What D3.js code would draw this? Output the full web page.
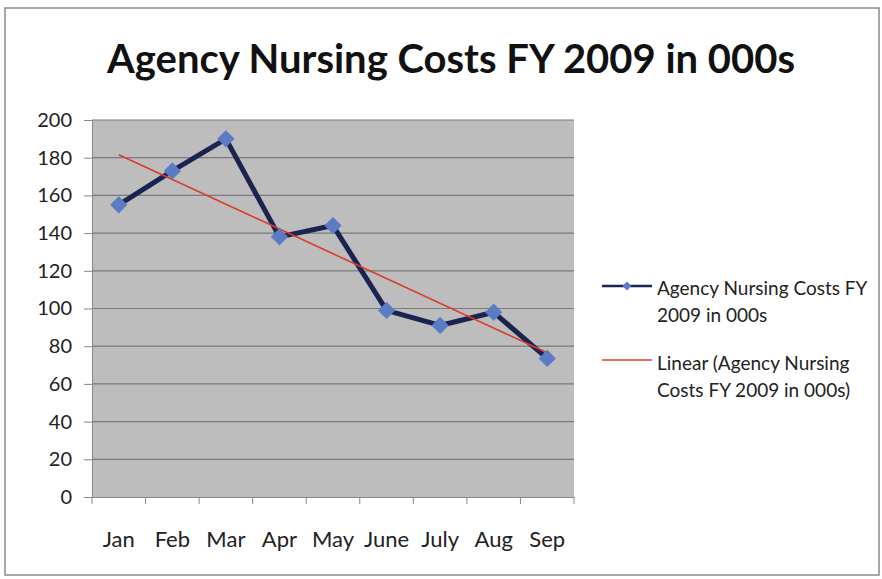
<!DOCTYPE html>
<html><head><meta charset="utf-8">
<script src="https://cdn.jsdelivr.net/npm/d3@7"></script>
<style>body{margin:0;background:#fff;} svg{display:block;font-family:Lato, "Open Sans", sans-serif;}</style>
</head><body>
<svg id="c" width="882" height="579"></svg>
<script>
const title = "Agency Nursing Costs FY 2009 in 000s";
const months = ["Jan","Feb","Mar","Apr","May","June","July","Aug","Sep"];
const costs = [155, 173, 190, 138, 144, 99, 91, 98, 73.5];
const yTicks = [0,20,40,60,80,100,120,140,160,180,200];
const seriesName = ["Agency Nursing Costs FY", "2009 in 000s"];
const trendName = ["Linear (Agency Nursing", "Costs FY 2009 in 000s)"];

const svg = d3.select("#c");
svg.append("rect").attr("x",5).attr("y",8).attr("width",874).attr("height",567)
  .attr("fill","#fff").attr("stroke","#8c8c8c").attr("stroke-width",1.5);

const L=92, R=574, T=120, B=497;
const x = d3.scaleBand().domain(months).range([L,R]);
const y = d3.scaleLinear().domain([0,200]).range([B,T]);
const cx = d => x(d)+x.bandwidth()/2;

svg.append("text").attr("x",451).attr("y",73).attr("text-anchor","middle")
  .attr("font-size",41).attr("font-weight","bold").attr("fill","#111")
  .attr("textLength",688).attr("lengthAdjust","spacingAndGlyphs").text(title);

svg.append("rect").attr("x",L).attr("y",T).attr("width",R-L).attr("height",B-T)
  .attr("fill","#bdbdbd");

// gridlines
svg.append("g").selectAll("line").data(yTicks.filter(v=>v>0)).join("line")
  .attr("x1",L).attr("x2",R).attr("y1",d=>y(d)).attr("y2",d=>y(d))
  .attr("stroke","#7a7a7a").attr("stroke-width",1.2);

// y axis
const ya = svg.append("g").attr("transform",`translate(${L},0)`)
  .call(d3.axisLeft(y).tickValues(yTicks).tickSize(8).tickPadding(12));
ya.select(".domain").attr("stroke","#888");
ya.selectAll(".tick line").attr("stroke","#888");
ya.selectAll("text").attr("font-size",20).attr("fill","#222").attr("font-family","Lato, sans-serif");

// x axis
const xa = svg.append("g").attr("transform",`translate(0,${B})`)
  .call(d3.axisBottom(x).tickSize(0).tickPadding(34));
xa.select(".domain").attr("stroke","#888");
xa.selectAll("text").attr("font-size",22).attr("fill","#222").attr("font-family","Lato, sans-serif");
svg.append("g").selectAll("line").data(months.concat(["end"])).join("line")
  .attr("x1",(d,i)=>L+i*x.bandwidth()).attr("x2",(d,i)=>L+i*x.bandwidth())
  .attr("y1",B).attr("y2",B+7).attr("stroke","#888");

// series line
svg.append("path").datum(months.map((m,i)=>[cx(m),y(costs[i])]))
  .attr("d",d3.line()).attr("fill","none").attr("stroke","#1b2350").attr("stroke-width",5)
  .attr("stroke-linejoin","round");

// linear trend (least squares of the data)
const n = costs.length, mx=(n-1)/2, my=d3.mean(costs);
const slope = d3.sum(costs,(v,i)=>(i-mx)*(v-my))/d3.sum(costs,(v,i)=>(i-mx)*(i-mx));
const ic = my - slope*mx;
svg.append("line").attr("x1",cx(months[0])).attr("y1",y(ic))
  .attr("x2",cx(months[n-1])).attr("y2",y(ic+slope*(n-1)))
  .attr("stroke","#dd3b2a").attr("stroke-width",1.6);

// markers
svg.append("g").selectAll("path").data(costs).join("path")
  .attr("d", d3.symbol().type(d3.symbolSquare).size(150))
  .attr("transform",(d,i)=>`translate(${cx(months[i])},${y(d)}) rotate(45)`)
  .attr("fill","#5b7cc4");

// legend
const lg = svg.append("g");
lg.append("line").attr("x1",602).attr("x2",652).attr("y1",286).attr("y2",286)
  .attr("stroke","#1b2350").attr("stroke-width",2.5);
lg.append("path").attr("d",d3.symbol().type(d3.symbolSquare).size(40))
  .attr("transform","translate(627,286) rotate(45)").attr("fill","#5b7cc4");
lg.append("line").attr("x1",602).attr("x2",652).attr("y1",360).attr("y2",360)
  .attr("stroke","#dd3b2a").attr("stroke-width",1.5);
const tx = (lines,y0)=>lines.forEach((s,i)=>lg.append("text").attr("x",657).attr("y",y0+i*27)
  .attr("font-size",19).attr("fill","#222").text(s));
tx(seriesName,295); tx(trendName,370);
</script>
</body></html>
